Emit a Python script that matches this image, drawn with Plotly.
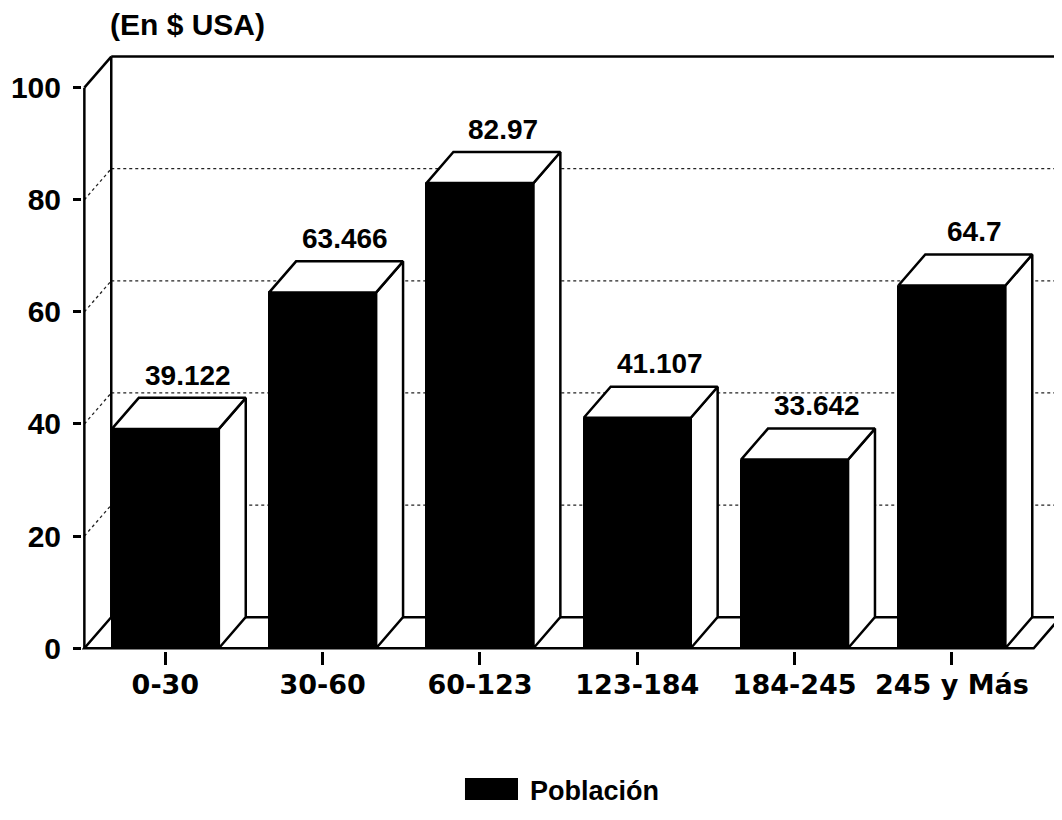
import plotly.graph_objects as go

# ---- data ----
categories = ["0-30", "30-60", "60-123", "123-184", "184-245", "245 y Más"]
values = [39.122, 63.466, 82.97, 41.107, 33.642, 64.7]
value_labels = ["39.122", "63.466", "82.97", "41.107", "33.642", "64.7"]
y_ticks = [0, 20, 40, 60, 80, 100]
series_name = "Población"
unit_title = "(En $ USA)"

# ---- 3D look parameters (data units) ----
DX = 0.171      # depth offset in x
DY = 5.54       # depth offset in y
BW = 0.68       # bar width
X_MIN, X_MAX = -0.53, 5.70
Y_MIN, Y_MAX = -0.5, 106.0
X0 = -0.515     # front axis position
X1 = 5.52       # front right end of floor
YTOP = 100

LINE = dict(color="black", width=2.5)
DOT = dict(color="#222", width=1.3, dash="dot")

xs = list(range(len(categories)))
fig = go.Figure()

def poly(px, py, fill="white", line=LINE):
    fig.add_trace(go.Scatter(x=px + [px[0]], y=py + [py[0]], mode="lines",
                             fill="toself", fillcolor=fill, line=line,
                             hoverinfo="skip", showlegend=False))

def seg(px, py, line=LINE):
    fig.add_trace(go.Scatter(x=px, y=py, mode="lines", line=line,
                             hoverinfo="skip", showlegend=False))

# floor (below the bars)
fig.add_shape(type="path", xref="x", yref="y", layer="below",
              path=f"M {X0},0 L {X1},0 L {X1 + DX},{DY} L {X0 + DX},{DY} Z",
              fillcolor="white", line=LINE)

# back wall grid lines and side-wall dotted diagonals
for t in y_ticks[1:-1]:
    fig.add_shape(type="line", xref="x", yref="y", layer="below",
                  x0=X0 + DX, x1=X1 + DX, y0=t + DY, y1=t + DY, line=DOT)
    seg([X0, X0 + DX], [t, t + DY], DOT)

# back wall frame
seg([X0 + DX, X0 + DX], [DY, YTOP + DY])
seg([X0 + DX, X_MAX], [YTOP + DY, YTOP + DY])
seg([X1 + DX, X1 + DX], [DY, YTOP + DY])
seg([X0, X0 + DX], [YTOP, YTOP + DY])
# front y axis line
seg([X0, X0], [0, YTOP])

# side and top faces of the bars
for x, v in zip(xs, values):
    r = x + BW / 2
    l = x - BW / 2
    poly([r, r + DX, r + DX, r], [0, DY, v + DY, v])
    poly([l, r, r + DX, l + DX], [v, v, v + DY, v + DY])

# front faces
fig.add_trace(go.Bar(x=xs, y=values, width=BW, name=series_name,
                     marker=dict(color="black", line=dict(color="black", width=1)),
                     showlegend=False, hoverinfo="skip"))

# value labels
for x, v, s in zip(xs, values, value_labels):
    fig.add_annotation(x=x + 0.145, y=v + 9.6, text=s, showarrow=False,
                       xanchor="center", yanchor="middle",
                       font=dict(family="Liberation Sans", size=28, color="black", weight="bold"))

# unit title
fig.add_annotation(xref="paper", yref="paper", x=0.0265, y=1.0486, text=unit_title,
                   showarrow=False, xanchor="left", yanchor="middle",
                   font=dict(family="Liberation Sans", size=30, color="black", weight="bold"))

# custom legend
fig.add_shape(type="rect", xref="paper", yref="paper",
              x0=0.3908, x1=0.4449, y0=-0.2496, y1=-0.2127,
              fillcolor="black", line=dict(color="black", width=0))
fig.add_annotation(xref="paper", yref="paper", x=0.4551, y=-0.2345, text=series_name,
                   showarrow=False, xanchor="left", yanchor="middle",
                   font=dict(family="Liberation Sans", size=27, color="black", weight="bold"))

fig.update_layout(
    width=1062, height=820,
    margin=dict(l=74, r=8, t=46, b=177),
    paper_bgcolor="white", plot_bgcolor="white",
    showlegend=False, bargap=0,
    font=dict(family="Liberation Sans", color="black"),
)
fig.update_xaxes(range=[X_MIN, X_MAX], tickvals=xs, ticktext=categories,
                 showgrid=False, zeroline=False, showline=False, automargin=False,
                 ticks="outside", ticklen=13, tickwidth=2.5, tickcolor="black",
                 ticklabelstandoff=-3,
                 tickfont=dict(family="DejaVu Sans", size=27, color="black", weight="bold"))
fig.update_yaxes(range=[Y_MIN, Y_MAX], tickvals=y_ticks,
                 showgrid=False, zeroline=False, showline=False, automargin=False,
                 ticks="outside", ticklen=8, tickwidth=2.5, tickcolor="black",
                 ticklabelstandoff=6,
                 tickfont=dict(family="Liberation Sans", size=30, color="black", weight="bold"))

fig.write_html("out.html")
